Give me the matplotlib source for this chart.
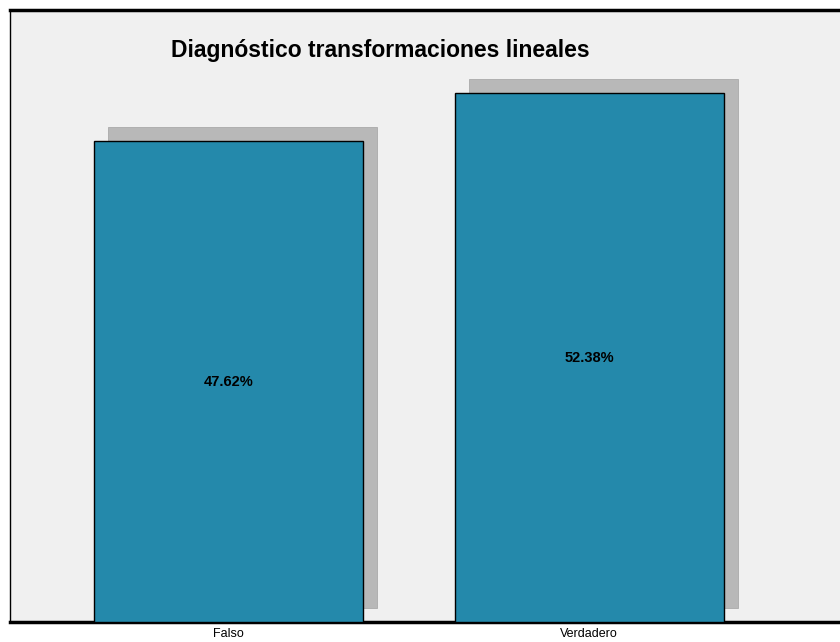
import matplotlib
matplotlib.use('Agg')
import matplotlib.pyplot as plt
import matplotlib.transforms as mtransforms

# values
categories = ['Falso', 'Verdadero']
percent = [47.62, 52.38]
title = 'Diagnóstico transformaciones lineales'

bar_color = '#2489ab'
shadow_color = '#b8b8b8'
bg_color = '#f0f0f0'
narrow = ['Liberation Sans Narrow', 'Liberation Sans', 'DejaVu Sans']

fig = plt.figure(figsize=(8.4, 6.42), dpi=100)
ax = fig.add_axes([10 / 840, 20 / 642, 830 / 840, 612 / 642])
ax.set_facecolor(bg_color)

x = list(range(len(categories)))

# drop shadow: same bars shifted right and up by a few pixels
shadow_tr = mtransforms.offset_copy(ax.transData, fig=fig, x=14, y=14, units='dots')
ax.bar(x, percent, width=0.746, color=shadow_color, edgecolor='#aaaaaa',
       linewidth=0.6, transform=shadow_tr, zorder=2)
ax.bar(x, percent, width=0.746, color=bar_color, edgecolor='black',
       linewidth=1.0, zorder=3)

for xi, v in zip(x, percent):
    ax.text(xi, v / 2, '%.2f%%' % v, ha='center', va='center', fontsize=10.5,
            fontweight='bold', family=narrow, zorder=4)

ax.set_xlim(-0.606, 1.696)
ax.set_ylim(0, 60.6)
ax.set_xticks(x)
ax.set_xticklabels(categories, family=narrow, fontsize=9)
ax.tick_params(axis='x', length=0, pad=4)
ax.set_yticks([])

ax.spines['right'].set_visible(False)
ax.spines['left'].set_linewidth(1.0)
ax.spines['top'].set_linewidth(2.5)
ax.spines['bottom'].set_linewidth(2.5)

fig.text(380 / 840, 1 - 51 / 642, title, ha='center', va='center',
         fontsize=16.5, fontweight='bold', family=['Liberation Sans', 'DejaVu Sans'])

plt.savefig('out.png', dpi=100)
